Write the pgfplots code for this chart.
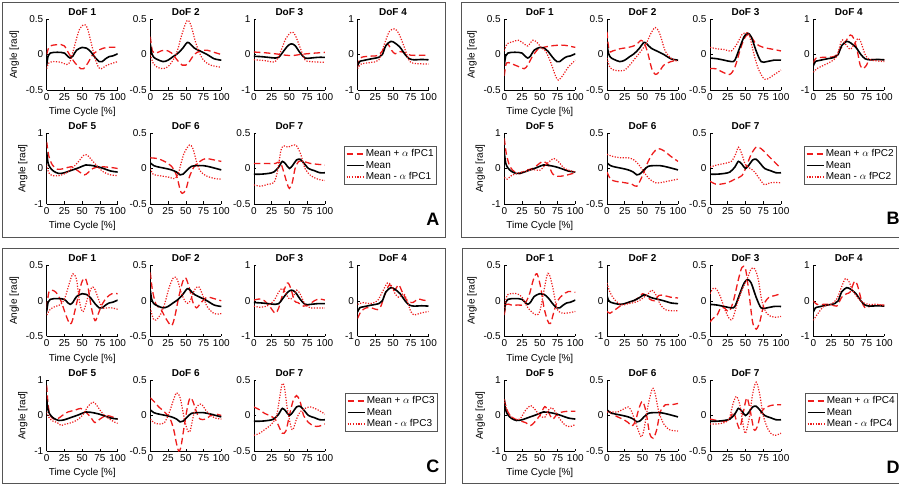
\documentclass[border=0pt]{standalone}
\usepackage{fontspec}
\setmainfont{Liberation Sans}
\usepackage{pgfplots}
\pgfplotsset{compat=1.18}
\definecolor{rd}{RGB}{238,28,28}
\definecolor{frm}{RGB}{85,85,85}
\newcommand{\fs}{\fontsize{10}{12}\selectfont}
\pgfplotsset{
  sub/.style={scale only axis,width=71pt,height=71pt,anchor=south west,
    xmin=0,xmax=100,axis lines=left,
    axis line style={-,line width=0.7pt,black},
    xtick={0,25,50,75,100},xticklabels={0,25,50,75,100},
    tick align=inside,major tick length=2.5pt,
    tick style={line width=0.6pt,black},
    ticklabel style={font=\fs},
    label style={font=\fs},
    every axis title/.style={at={(0.5,1)},anchor=base,yshift=3.5pt,font=\fs\bfseries},
    every axis plot/.append style={smooth,tension=0.5}},
  half/.style={ymin=-0.5,ymax=0.5,ytick={-0.5,0,0.5},yticklabels={-0.5,0,0.5}},
  full/.style={ymin=-1,ymax=1,ytick={-1,0,1},yticklabels={-1,0,1}},
  lab/.style={ylabel={Angle [rad]},xlabel={Time Cycle [\%]}},
  pl/.style={color=rd,line width=1.3pt,dash pattern=on 6.5pt off 3.5pt},
  mn/.style={color=black,line width=1.6pt},
  mi/.style={color=rd,line width=1.2pt,dash pattern=on 1.2pt off 1.5pt},
  leg/.style={legend style={at={(1,0.5)},anchor=west,xshift=#1,yshift=3pt,draw=frm,line width=0.6pt,font=\fs,inner xsep=1.5pt,inner ysep=1.5pt,nodes={inner sep=1.5pt,text depth=0.15em}},legend cell align=left,legend image code/.code={\draw[##1] (0pt,0pt)--(17pt,0pt);}}
}
\newcommand{\MeanI}{\addplot[mn] coordinates {(0,-0.15)(2,-0.02)(5,0.02)(10,0.03)(20,0.03)(25,0.02)(30,-0.03)(33,-0.05)(37,-0.02)(42,0.06)(50,0.1)(56,0.09)(62,0.04)(68,-0.04)(74,-0.1)(78,-0.1)(83,-0.06)(88,-0.03)(93,-0.02)(100,0.01)};}
\newcommand{\MeanII}{\addplot[mn] coordinates {(0,0.15)(2,0.02)(5,-0.04)(10,-0.07)(18,-0.1)(25,-0.08)(32,-0.03)(38,0.01)(45,0.08)(52,0.17)(56,0.15)(62,0.09)(70,0.05)(80,0.0)(90,-0.06)(100,-0.08)};}
\newcommand{\MeanIII}{\addplot[mn] coordinates {(0,-0.05)(10,-0.06)(20,-0.08)(30,-0.1)(35,-0.08)(42,0.1)(48,0.25)(53,0.3)(58,0.25)(65,0.05)(72,-0.1)(80,-0.1)(90,-0.08)(100,-0.08)};}
\newcommand{\MeanIV}{\addplot[mn] coordinates {(0,-0.32)(3,-0.2)(8,-0.17)(20,-0.12)(30,-0.08)(35,0.0)(40,0.25)(47,0.37)(53,0.32)(60,0.2)(67,0.0)(73,-0.12)(80,-0.15)(90,-0.14)(100,-0.15)};}
\newcommand{\MeanV}{\addplot[mn] coordinates {(0,0.45)(2,0.15)(5,0.02)(10,-0.08)(17,-0.14)(25,-0.12)(35,-0.05)(45,0.02)(55,0.1)(62,0.09)(72,0.05)(80,0.0)(90,-0.07)(100,-0.1)};}
\newcommand{\MeanVI}{\addplot[mn] coordinates {(0,0.08)(5,0.04)(12,0.02)(22,0.0)(30,-0.02)(37,-0.05)(42,-0.09)(46,-0.08)(52,-0.02)(58,0.03)(65,0.04)(75,0.04)(85,0.02)(100,-0.02)};}
\newcommand{\MeanVII}{\addplot[mn] coordinates {(0,-0.08)(10,-0.08)(20,-0.07)(28,-0.05)(35,0.02)(40,0.1)(45,0.06)(50,0.0)(55,0.05)(60,0.12)(65,0.13)(70,0.08)(77,0.0)(85,-0.03)(93,-0.06)(100,-0.06)};}
\begin{document}
\begin{tikzpicture}
\useasboundingbox (0,0) rectangle (899pt,-486pt);
\clip (0,0) rectangle (899pt,-486pt);
\draw[frm,line width=0.8pt] (2.7pt,-2.2pt) rectangle (445.7pt,-237.3pt);
\draw[frm,line width=0.8pt] (461.7pt,-2.2pt) rectangle (910pt,-237.3pt);
\draw[frm,line width=0.8pt] (2.7pt,-248.3pt) rectangle (445.7pt,-483.3pt);
\draw[frm,line width=0.8pt] (462.3pt,-248.3pt) rectangle (910pt,-483.3pt);
% ================= PANEL A =================
\begin{axis}[sub,half,lab,at={(46.7pt,-90pt)},title={DoF 1}]
\addplot[pl] coordinates {(0,0.0)(3,0.1)(8,0.13)(20,0.14)(25,0.12)(32,0.0)(40,-0.12)(48,-0.2)(52,-0.2)(58,-0.12)(65,0.0)(75,0.07)(85,0.1)(100,0.1)};
\MeanI
\addplot[mi] coordinates {(0,-0.2)(3,-0.12)(10,-0.1)(20,-0.11)(28,-0.14)(33,-0.1)(40,0.15)(46,0.35)(52,0.42)(57,0.38)(63,0.15)(68,-0.05)(73,-0.18)(77,-0.2)(85,-0.15)(100,-0.1)};
\end{axis}
\begin{axis}[sub,half,at={(150.3pt,-90pt)},title={DoF 2}]
\addplot[pl] coordinates {(0,0.25)(3,0.05)(8,0.02)(15,0.05)(22,0.06)(30,0.02)(38,-0.08)(45,-0.15)(50,-0.15)(55,-0.1)(62,0.0)(70,0.05)(80,0.06)(90,0.03)(100,0.0)};
\MeanII
\addplot[mi] coordinates {(0,0.0)(4,-0.12)(10,-0.18)(18,-0.2)(25,-0.17)(32,-0.08)(38,0.05)(45,0.3)(52,0.48)(57,0.42)(63,0.2)(68,0.05)(75,-0.08)(85,-0.15)(100,-0.18)};
\end{axis}
\begin{axis}[sub,full,at={(253.9pt,-90pt)},title={DoF 3}]
\addplot[pl] coordinates {(0,0.07)(15,0.05)(30,0.02)(45,-0.02)(55,-0.03)(65,0.0)(80,0.03)(100,0.06)};
\MeanIII
\addplot[mi] coordinates {(0,-0.15)(15,-0.17)(30,-0.2)(38,0.1)(45,0.45)(53,0.63)(58,0.55)(65,0.2)(72,-0.15)(80,-0.2)(100,-0.22)};
\end{axis}
\begin{axis}[sub,full,at={(357.5pt,-90pt)},title={DoF 4}]
\addplot[pl] coordinates {(0,-0.35)(4,-0.1)(15,-0.05)(28,-0.03)(35,0.1)(42,0.3)(48,0.12)(53,0.02)(60,0.08)(67,0.05)(75,-0.02)(100,-0.02)};
\MeanIV
\addplot[mi] coordinates {(0,-0.4)(5,-0.27)(20,-0.22)(30,-0.15)(38,0.3)(45,0.65)(52,0.72)(58,0.6)(66,0.2)(73,-0.18)(80,-0.25)(100,-0.27)};
\end{axis}
\begin{axis}[sub,full,lab,at={(46.7pt,-204pt)},title={DoF 5}]
\addplot[pl] coordinates {(0,0.75)(3,0.35)(8,0.1)(15,-0.02)(25,0.0)(35,0.05)(45,-0.08)(53,-0.18)(58,-0.12)(65,0.0)(75,0.05)(90,0.03)(100,0.0)};
\MeanV
\addplot[mi] coordinates {(0,0.1)(3,-0.12)(8,-0.2)(18,-0.2)(28,-0.12)(38,0.05)(45,0.2)(52,0.37)(57,0.38)(63,0.25)(72,0.05)(80,-0.1)(90,-0.18)(100,-0.2)};
\end{axis}
\begin{axis}[sub,half,at={(150.3pt,-204pt)},title={DoF 6}]
\addplot[pl] coordinates {(0,0.15)(10,0.14)(20,0.1)(30,0.03)(37,-0.1)(42,-0.3)(45,-0.35)(50,-0.3)(55,-0.12)(62,0.03)(70,0.1)(78,0.14)(90,0.12)(100,0.1)};
\MeanVI
\addplot[mi] coordinates {(0,0.0)(4,-0.08)(12,-0.1)(25,-0.12)(35,-0.14)(40,-0.05)(47,0.2)(55,0.33)(60,0.28)(65,0.1)(70,-0.03)(78,-0.1)(90,-0.14)(100,-0.15)};
\end{axis}
\begin{axis}[sub,half,at={(253.9pt,-204pt)},title={DoF 7},leg=19pt,legend entries={Mean + $\alpha$ fPC1,Mean,Mean - $\alpha$ fPC1}]
\addplot[pl] coordinates {(0,0.07)(15,0.07)(30,0.07)(37,0.09)(42,-0.05)(47,-0.22)(50,-0.28)(54,-0.2)(58,0.0)(63,0.1)(70,0.1)(80,0.07)(100,0.05)};
\MeanVII
\addplot[mi] coordinates {(0,-0.23)(10,-0.25)(20,-0.22)(28,-0.2)(33,-0.05)(38,0.25)(42,0.32)(48,0.3)(55,0.33)(60,0.32)(66,0.2)(72,0.0)(80,-0.1)(90,-0.15)(100,-0.17)};
\end{axis}
% ================= PANEL B =================
\begin{axis}[sub,half,lab,at={(504.3pt,-90pt)},title={DoF 1}]
\addplot[pl] coordinates {(0,-0.3)(3,-0.12)(10,-0.13)(20,-0.17)(28,-0.2)(33,-0.15)(40,-0.02)(48,0.08)(55,0.1)(65,0.12)(75,0.13)(85,0.13)(100,0.1)};
\MeanI
\addplot[mi] coordinates {(0,0.05)(4,0.15)(12,0.18)(20,0.2)(28,0.15)(33,0.12)(40,0.2)(45,0.18)(52,0.1)(58,0.05)(65,-0.1)(72,-0.3)(76,-0.36)(82,-0.3)(90,-0.18)(100,-0.08)};
\end{axis}
\begin{axis}[sub,half,at={(607pt,-90pt)},title={DoF 2}]
\addplot[pl] coordinates {(0,0.32)(3,0.05)(8,0.05)(18,0.08)(30,0.1)(40,0.13)(48,0.2)(53,0.15)(58,0.0)(63,-0.2)(68,-0.28)(73,-0.25)(80,-0.15)(90,-0.1)(100,-0.08)};
\MeanII
\addplot[mi] coordinates {(0,-0.05)(4,-0.18)(10,-0.22)(18,-0.23)(25,-0.22)(32,-0.15)(40,-0.05)(48,0.05)(55,0.15)(62,0.3)(68,0.38)(74,0.3)(82,0.05)(90,-0.05)(100,-0.1)};
\end{axis}
\begin{axis}[sub,half,at={(710pt,-90pt)},title={DoF 3}]
\addplot[pl] coordinates {(0,-0.2)(8,-0.2)(18,-0.25)(28,-0.28)(35,-0.18)(42,0.05)(48,0.22)(53,0.28)(58,0.25)(65,0.15)(75,0.1)(85,0.08)(100,0.05)};
\MeanIII
\addplot[mi] coordinates {(0,0.1)(10,0.08)(20,0.07)(30,0.05)(38,0.15)(45,0.28)(50,0.3)(55,0.28)(62,0.0)(68,-0.2)(75,-0.33)(80,-0.35)(88,-0.3)(100,-0.22)};
\end{axis}
\begin{axis}[sub,full,at={(813.3pt,-90pt)},title={DoF 4}]
\addplot[pl] coordinates {(0,-0.25)(4,-0.1)(15,-0.08)(30,-0.05)(38,0.15)(45,0.35)(52,0.55)(57,0.45)(62,0.1)(66,-0.3)(70,-0.4)(75,-0.3)(80,-0.15)(100,-0.15)};
\MeanIV
\addplot[mi] coordinates {(0,-0.5)(5,-0.4)(15,-0.3)(25,-0.2)(33,-0.05)(40,0.4)(45,0.3)(52,0.15)(58,0.3)(63,0.45)(67,0.35)(73,0.0)(80,-0.15)(100,-0.2)};
\end{axis}
\begin{axis}[sub,full,lab,at={(504.3pt,-204pt)},title={DoF 5}]
\addplot[pl] coordinates {(0,0.85)(3,0.4)(8,0.05)(15,-0.1)(22,-0.15)(30,-0.05)(40,0.0)(50,0.15)(55,0.2)(62,0.1)(68,-0.15)(75,-0.22)(85,-0.2)(100,-0.12)};
\MeanV
\addplot[mi] coordinates {(0,-0.25)(4,-0.3)(10,-0.2)(20,-0.12)(30,-0.08)(40,-0.03)(50,-0.05)(58,0.1)(65,0.22)(70,0.28)(76,0.2)(85,0.0)(100,-0.1)};
\end{axis}
\begin{axis}[sub,half,at={(607pt,-204pt)},title={DoF 6}]
\addplot[pl] coordinates {(0,-0.05)(5,-0.15)(12,-0.18)(25,-0.2)(35,-0.22)(42,-0.25)(50,-0.1)(58,0.1)(65,0.22)(72,0.28)(80,0.25)(90,0.17)(100,0.1)};
\MeanVI
\addplot[mi] coordinates {(0,0.2)(8,0.17)(20,0.15)(30,0.15)(38,0.12)(45,0.05)(52,-0.05)(60,-0.15)(68,-0.2)(75,-0.2)(85,-0.18)(100,-0.15)};
\end{axis}
\begin{axis}[sub,half,at={(710pt,-204pt)},title={DoF 7},leg=23pt,legend entries={Mean + $\alpha$ fPC2,Mean,Mean - $\alpha$ fPC2}]
\addplot[pl] coordinates {(0,-0.18)(8,-0.22)(15,-0.22)(25,-0.2)(35,-0.15)(45,-0.1)(52,0.05)(58,0.2)(65,0.3)(72,0.28)(80,0.2)(90,0.1)(100,0.0)};
\MeanVII
\addplot[mi] coordinates {(0,0.02)(10,0.05)(20,0.07)(30,0.1)(36,0.2)(40,0.3)(45,0.2)(50,0.05)(57,0.0)(63,-0.05)(70,-0.15)(77,-0.23)(85,-0.2)(100,-0.2)};
\end{axis}
% ================= PANEL C =================
\begin{axis}[sub,half,lab,at={(46.7pt,-336.3pt)},title={DoF 1}]
\addplot[pl] coordinates {(0,-0.1)(3,0.12)(7,0.15)(13,0.12)(20,0.0)(27,-0.2)(33,-0.33)(37,-0.25)(43,0.0)(49,0.25)(54,0.32)(58,0.2)(63,-0.1)(68,-0.28)(72,-0.2)(78,-0.05)(85,0.05)(92,0.1)(100,0.1)};
\MeanI
\addplot[mi] coordinates {(0,-0.2)(5,-0.12)(12,-0.08)(20,-0.05)(26,0.05)(32,0.25)(37,0.38)(42,0.3)(46,0.0)(50,-0.15)(53,-0.12)(58,0.05)(63,0.18)(67,0.18)(72,0.05)(78,-0.1)(85,-0.1)(92,-0.1)(100,-0.12)};
\end{axis}
\begin{axis}[sub,half,at={(150.3pt,-336.3pt)},title={DoF 2}]
\addplot[pl] coordinates {(0,0.4)(3,0.15)(8,-0.05)(15,-0.12)(22,-0.25)(30,-0.35)(35,-0.2)(40,0.05)(46,0.28)(50,0.32)(55,0.18)(60,-0.02)(65,-0.1)(72,-0.02)(80,0.05)(90,0.03)(100,0.0)};
\MeanII
\addplot[mi] coordinates {(0,-0.1)(4,-0.25)(8,-0.27)(14,-0.2)(20,-0.05)(27,0.2)(33,0.33)(38,0.3)(44,0.1)(50,-0.02)(55,-0.02)(62,0.15)(68,0.2)(73,0.1)(80,-0.08)(90,-0.18)(100,-0.18)};
\end{axis}
\begin{axis}[sub,full,at={(253.9pt,-336.3pt)},title={DoF 3}]
\addplot[pl] coordinates {(0,0.02)(8,0.05)(15,0.0)(22,-0.15)(30,-0.35)(35,-0.2)(40,0.15)(47,0.5)(52,0.35)(57,0.0)(62,-0.05)(70,-0.15)(78,-0.1)(85,0.0)(92,0.05)(100,0.02)};
\MeanIII
\addplot[mi] coordinates {(0,-0.15)(8,-0.18)(18,-0.15)(28,0.0)(35,0.25)(40,0.35)(45,0.2)(50,0.05)(55,0.1)(60,0.3)(65,0.2)(72,-0.1)(80,-0.2)(90,-0.2)(100,-0.2)};
\end{axis}
\begin{axis}[sub,full,at={(357.5pt,-336.3pt)},title={DoF 4}]
\addplot[pl] coordinates {(0,-0.5)(5,-0.3)(12,-0.2)(20,-0.2)(28,-0.25)(33,-0.15)(38,0.15)(45,0.45)(52,0.3)(58,0.45)(63,0.25)(70,0.0)(78,-0.05)(85,0.05)(92,0.02)(100,0.0)};
\MeanIV
\addplot[mi] coordinates {(0,-0.1)(8,-0.05)(18,-0.08)(28,0.0)(35,0.25)(42,0.5)(47,0.45)(53,0.2)(58,0.1)(65,0.2)(70,0.0)(75,-0.3)(80,-0.4)(88,-0.35)(100,-0.3)};
\end{axis}
\begin{axis}[sub,full,lab,at={(46.7pt,-451pt)},title={DoF 5}]
\addplot[pl] coordinates {(0,0.85)(2,0.3)(5,0.0)(10,-0.1)(15,-0.1)(22,0.0)(30,0.1)(40,0.15)(48,0.2)(55,0.1)(62,-0.05)(68,-0.2)(75,-0.1)(85,0.0)(100,-0.1)};
\MeanV
\addplot[mi] coordinates {(0,0.1)(3,-0.05)(8,-0.15)(15,-0.2)(20,-0.28)(25,-0.25)(35,-0.2)(45,-0.1)(52,0.05)(58,0.25)(65,0.38)(70,0.3)(77,0.1)(85,-0.05)(95,-0.18)(100,-0.22)};
\end{axis}
\begin{axis}[sub,half,at={(150.3pt,-451pt)},title={DoF 6}]
\addplot[pl] coordinates {(0,0.25)(5,0.2)(12,0.12)(20,0.05)(28,-0.05)(33,-0.2)(37,-0.4)(40,-0.5)(43,-0.45)(47,-0.2)(52,0.1)(56,0.25)(60,0.2)(65,0.05)(70,-0.05)(78,-0.05)(85,0.0)(92,0.02)(100,0.0)};
\MeanVI
\addplot[mi] coordinates {(0,-0.05)(5,-0.1)(12,-0.12)(20,-0.1)(27,0.05)(32,0.2)(37,0.32)(42,0.25)(47,0.0)(52,-0.2)(56,-0.22)(62,0.05)(68,0.15)(73,0.15)(80,0.05)(90,-0.03)(100,-0.05)};
\end{axis}
\begin{axis}[sub,half,at={(253.9pt,-451pt)},title={DoF 7},leg=20pt,legend entries={Mean + $\alpha$ fPC3,Mean,Mean - $\alpha$ fPC3}]
\addplot[pl] coordinates {(0,0.12)(8,0.08)(15,0.03)(22,0.0)(30,-0.05)(35,-0.15)(40,-0.25)(45,-0.22)(50,0.0)(55,0.2)(60,0.28)(65,0.2)(70,0.0)(77,-0.1)(85,-0.15)(92,-0.15)(100,-0.12)};
\MeanVII
\addplot[mi] coordinates {(0,-0.28)(8,-0.25)(15,-0.2)(25,-0.12)(32,0.0)(37,0.3)(40,0.45)(43,0.4)(47,0.1)(52,-0.15)(55,-0.2)(60,-0.05)(65,0.05)(72,0.1)(80,0.12)(90,0.08)(100,0.02)};
\end{axis}
% ================= PANEL D =================
\begin{axis}[sub,half,lab,at={(504.3pt,-336.3pt)},title={DoF 1}]
\addplot[pl] coordinates {(0,-0.2)(3,-0.05)(10,-0.06)(20,-0.06)(28,-0.05)(35,0.08)(41,0.3)(46,0.38)(51,0.2)(56,-0.1)(61,-0.28)(65,-0.32)(70,-0.15)(75,0.0)(82,0.08)(90,0.13)(100,0.12)};
\MeanI
\addplot[mi] coordinates {(0,-0.1)(4,0.08)(10,0.1)(18,0.1)(25,0.05)(32,-0.08)(38,-0.15)(45,-0.2)(50,-0.15)(55,0.1)(60,0.35)(63,0.38)(68,0.2)(74,-0.1)(80,-0.17)(90,-0.17)(100,-0.15)};
\end{axis}
\begin{axis}[sub,full,at={(607pt,-336.3pt)},title={DoF 2}]
\addplot[pl] coordinates {(0,-0.3)(4,-0.35)(8,-0.3)(15,-0.2)(22,-0.1)(30,-0.05)(38,0.0)(45,0.1)(50,0.2)(55,0.15)(60,0.05)(67,0.0)(73,0.15)(80,0.15)(90,0.1)(100,0.08)};
\MeanII
\addplot[mi] coordinates {(0,0.5)(3,0.3)(8,0.1)(15,-0.05)(22,-0.12)(30,-0.08)(38,-0.05)(45,0.0)(52,0.1)(58,0.2)(63,0.3)(68,0.2)(75,-0.1)(82,-0.25)(90,-0.28)(100,-0.28)};
\end{axis}
\begin{axis}[sub,half,at={(710pt,-336.3pt)},title={DoF 3}]
\addplot[pl] coordinates {(0,-0.3)(4,-0.25)(10,-0.2)(15,-0.1)(20,-0.1)(27,-0.15)(33,0.0)(40,0.3)(45,0.47)(50,0.45)(55,0.1)(60,-0.3)(65,-0.4)(70,-0.3)(76,-0.05)(83,0.05)(90,0.07)(100,0.1)};
\MeanIII
\addplot[mi] coordinates {(0,0.1)(5,0.18)(10,0.15)(15,0.05)(20,-0.1)(27,-0.25)(32,-0.25)(38,-0.05)(45,0.15)(52,0.3)(58,0.45)(63,0.45)(68,0.3)(73,0.0)(80,-0.18)(90,-0.23)(100,-0.22)};
\end{axis}
\begin{axis}[sub,full,at={(813.3pt,-336.3pt)},title={DoF 4}]
\addplot[pl] coordinates {(0,0.0)(5,-0.1)(15,-0.1)(25,-0.1)(33,-0.15)(40,0.1)(47,0.2)(52,0.25)(58,0.55)(62,0.45)(68,0.0)(73,-0.2)(80,-0.15)(90,-0.12)(100,-0.12)};
\MeanIV
\addplot[mi] coordinates {(0,-0.55)(5,-0.4)(15,-0.15)(25,-0.1)(33,0.05)(40,0.4)(45,0.62)(50,0.55)(55,0.3)(62,0.1)(70,-0.05)(78,-0.1)(90,-0.1)(100,-0.15)};
\end{axis}
\begin{axis}[sub,full,lab,at={(504.3pt,-451pt)},title={DoF 5}]
\addplot[pl] coordinates {(0,0.45)(3,0.2)(8,0.0)(15,-0.1)(22,-0.15)(30,-0.2)(37,-0.28)(42,-0.2)(50,0.0)(57,0.25)(62,0.1)(68,-0.1)(75,0.05)(82,0.1)(90,0.12)(100,0.12)};
\MeanV
\addplot[mi] coordinates {(0,0.45)(3,0.2)(8,0.0)(15,-0.1)(22,-0.1)(30,0.15)(37,0.28)(42,0.2)(50,0.0)(57,-0.05)(62,0.15)(67,0.22)(72,0.1)(80,-0.15)(88,-0.3)(95,-0.3)(100,-0.25)};
\end{axis}
\begin{axis}[sub,half,at={(607pt,-451pt)},title={DoF 6}]
\addplot[pl] coordinates {(0,0.07)(8,0.02)(15,-0.02)(22,-0.05)(30,-0.1)(35,-0.15)(40,-0.08)(45,0.1)(50,0.2)(55,0.05)(60,-0.25)(65,-0.32)(70,-0.2)(75,0.05)(82,0.15)(90,0.15)(100,0.17)};
\MeanVI
\addplot[mi] coordinates {(0,0.05)(8,0.05)(15,0.05)(25,0.1)(30,0.12)(35,0.05)(42,-0.15)(48,-0.3)(52,-0.2)(58,0.15)(64,0.38)(68,0.3)(73,0.05)(80,-0.12)(88,-0.2)(100,-0.22)};
\end{axis}
\begin{axis}[sub,half,at={(710pt,-451pt)},title={DoF 7},leg=24pt,legend entries={Mean + $\alpha$ fPC4,Mean,Mean - $\alpha$ fPC4}]
\addplot[pl] coordinates {(0,-0.05)(10,-0.07)(20,-0.08)(28,-0.05)(33,0.05)(38,-0.1)(42,-0.18)(47,0.05)(52,0.25)(57,0.05)(62,-0.2)(67,-0.15)(72,0.05)(80,0.12)(90,0.15)(100,0.15)};
\MeanVII
\addplot[mi] coordinates {(0,-0.12)(10,-0.12)(20,-0.1)(27,-0.05)(32,0.15)(37,0.27)(42,0.15)(47,-0.15)(50,-0.25)(55,-0.05)(60,0.3)(65,0.47)(70,0.3)(75,0.0)(82,-0.2)(90,-0.28)(100,-0.25)};
\end{axis}
% letters
\node[anchor=base east,font=\fontsize{18}{18}\selectfont\bfseries,inner sep=0pt] at (439.5pt,-226pt) {A};
\node[anchor=base west,font=\fontsize{18}{18}\selectfont\bfseries,inner sep=0pt] at (886.5pt,-225pt) {B};
\node[anchor=base east,font=\fontsize{18}{18}\selectfont\bfseries,inner sep=0pt] at (439.5pt,-472pt) {C};
\node[anchor=base west,font=\fontsize{18}{18}\selectfont\bfseries,inner sep=0pt] at (886.5pt,-473pt) {D};
\end{tikzpicture}
\end{document}
